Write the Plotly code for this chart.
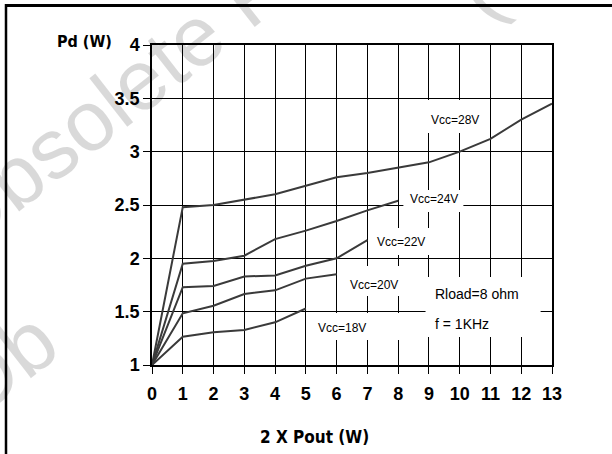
import plotly.graph_objects as go

# ---- data ----
pout_2x = [0, 1, 2, 3, 4, 5, 6, 7, 8, 9, 10, 11, 12, 13]
pd_vcc28 = [1.0, 2.48, 2.50, 2.55, 2.60, 2.68, 2.76, 2.80, 2.85, 2.90, 3.00, 3.12, 3.30, 3.45]
pd_vcc24 = [1.0, 1.95, 1.975, 2.025, 2.18, 2.26, 2.35, 2.45, 2.54]
pd_vcc22 = [1.0, 1.73, 1.74, 1.83, 1.84, 1.93, 2.00, 2.17]
pd_vcc20 = [1.0, 1.485, 1.556, 1.666, 1.70, 1.81, 1.85]
pd_vcc18 = [1.0, 1.265, 1.306, 1.328, 1.40, 1.53]

series_names = ["Vcc=28V", "Vcc=24V", "Vcc=22V", "Vcc=20V", "Vcc=18V"]
series_values = [pd_vcc28, pd_vcc24, pd_vcc22, pd_vcc20, pd_vcc18]

y_tickvals = [1, 1.5, 2, 2.5, 3, 3.5, 4]
y_ticktext = ["1", "1.5", "2", "2.5", "3", "3.5", "4"]
x_tickvals = pout_2x
x_ticktext = [str(v) for v in pout_2x]

COND = "DejaVu Sans Condensed, Liberation Sans Narrow, Liberation Sans, Arial, sans-serif"
SANS = "Liberation Sans, Arial, sans-serif"
WATERMARK = "rgba(0,0,0,0.15)"

W, H = 612, 454
def px(xp):
    return xp / W
def py(yp):
    return 1 - yp / H

fig = go.Figure()
for name, vals in zip(series_names, series_values):
    fig.add_trace(go.Scatter(
        x=pout_2x[:len(vals)], y=vals, mode="lines", name=name,
        line=dict(color="#3a3a3a", width=2), showlegend=False,
        hoverinfo="skip",
    ))
# invisible helper trace that carries the page-frame axes
fig.add_trace(go.Scatter(x=[0, 1], y=[0, 1], xaxis="x2", yaxis="y2", mode="lines",
                         line=dict(width=0, color="rgba(0,0,0,0)"), showlegend=False,
                         hoverinfo="skip"))

# white label boxes that interrupt the grid (between grid and traces)
label_boxes = [
    (8.89, 10.84, 3.175, 3.484),
    (8.17, 10.12, 2.434, 2.64),
    (7.04, 9.12, 2.031, 2.284),
    (6.22, 8.24, 1.647, 1.928),
    (5.02, 8.89, 1.234, 1.4875),
    (8.89, 12.63, 1.2625, 1.825),
]
shapes = []
for x0, x1, y0, y1 in label_boxes:
    shapes.append(dict(type="rect", xref="x", yref="y", x0=x0, x1=x1, y0=y0, y1=y1,
                       fillcolor="white", line=dict(width=0), layer="between"))

# outer page frame: left and top edges
shapes.append(dict(type="line", xref="paper", yref="paper", x0=px(6), x1=px(6),
                   y0=py(4), y1=-0.05, line=dict(color="black", width=2.5), layer="above"))
shapes.append(dict(type="line", xref="paper", yref="paper", x0=px(5), x1=1.0,
                   y0=py(5.2), y1=py(5.2), line=dict(color="black", width=2.5), layer="above"))

annotations = []
# curve labels
curve_labels = [
    ("Vcc=28V", 9.86, 3.297),
    ("Vcc=24V", 9.15, 2.556),
    ("Vcc=22V", 8.09, 2.153),
    ("Vcc=20V", 7.23, 1.75),
    ("Vcc=18V", 6.175, 1.347),
]
for txt, lx, ly in curve_labels:
    annotations.append(dict(text=txt, x=lx, y=ly, xref="x", yref="y", showarrow=False,
                            font=dict(family=SANS, size=12, color="black"),
                            xanchor="center", yanchor="middle"))
annotations.append(dict(text="Rload=8 ohm", x=9.14, y=1.666, xref="x", yref="y", showarrow=False,
                        font=dict(family=SANS, size=14, color="black"),
                        xanchor="left", yanchor="middle"))
annotations.append(dict(text="f = 1KHz", x=9.14, y=1.38, xref="x", yref="y", showarrow=False,
                        font=dict(family=SANS, size=14, color="black"),
                        xanchor="left", yanchor="middle"))
# axis titles
annotations.append(dict(text="Pd (W)", x=px(84), y=py(41), xref="paper", yref="paper", showarrow=False,
                        font=dict(family=COND, size=16, color="black", weight="bold"),
                        xanchor="center", yanchor="middle"))
annotations.append(dict(text="2 X Pout (W)", x=px(315), y=py(437), xref="paper", yref="paper", showarrow=False,
                        font=dict(family=COND, size=17, color="black", weight="bold"),
                        xanchor="center", yanchor="middle"))
# watermark
annotations.append(dict(text="Obsolete Product(s)", x=px(242), y=py(-1), xref="paper", yref="paper",
                        showarrow=False, textangle=-38,
                        font=dict(family=SANS, size=85, color=WATERMARK),
                        xanchor="center", yanchor="middle"))
annotations.append(dict(text="Ob", x=px(0), y=py(364), xref="paper", yref="paper",
                        showarrow=False, textangle=-38,
                        font=dict(family=SANS, size=85, color=WATERMARK),
                        xanchor="center", yanchor="middle"))
annotations.append(dict(text="(s)", x=px(505), y=py(-30), xref="paper", yref="paper",
                        showarrow=False, textangle=-38,
                        font=dict(family=SANS, size=85, color=WATERMARK),
                        xanchor="center", yanchor="middle"))

fig.update_layout(
    width=W, height=H,
    margin=dict(l=0, r=0, t=0, b=0, autoexpand=False),
    paper_bgcolor="white", plot_bgcolor="rgba(0,0,0,0)",
    shapes=shapes, annotations=annotations,
    xaxis=dict(domain=[px(152), px(552)], range=[0, 13],
               tickvals=x_tickvals, ticktext=x_ticktext, automargin=False,
               showgrid=True, gridcolor="black", gridwidth=1,
               showline=True, linecolor="black", linewidth=2, mirror=True,
               ticks="outside", ticklen=7, tickcolor="black", tickwidth=1,
               zeroline=False, ticklabelstandoff=4,
               tickfont=dict(family=SANS, size=18, color="black", weight="bold")),
    yaxis=dict(domain=[py(365), py(45)], range=[1, 4],
               tickvals=y_tickvals, ticktext=y_ticktext, automargin=False,
               showgrid=True, gridcolor="black", gridwidth=1,
               showline=True, linecolor="black", linewidth=1.5, mirror=True,
               ticks="outside", ticklen=7, tickcolor="black", tickwidth=1,
               zeroline=False,
               tickfont=dict(family=SANS, size=18, color="black", weight="bold")),
    # helper axes: the top one draws the page frame's top edge
    xaxis2=dict(domain=[px(5), 1.0], anchor="free", position=py(5.2), range=[0, 1],
                showline=True, linecolor="black", linewidth=2.5, showgrid=False,
                zeroline=False, showticklabels=False, ticks="", automargin=False),
    yaxis2=dict(domain=[0.0, 1.0], anchor="free", position=px(6), range=[0, 1],
                showline=False, showgrid=False, zeroline=False, showticklabels=False,
                ticks="", automargin=False),
)

fig.write_html("out.html", config={"displayModeBar": False},
               post_script="document.body.style.margin='0';document.body.style.overflow='hidden';window.scrollTo(0,0);")
